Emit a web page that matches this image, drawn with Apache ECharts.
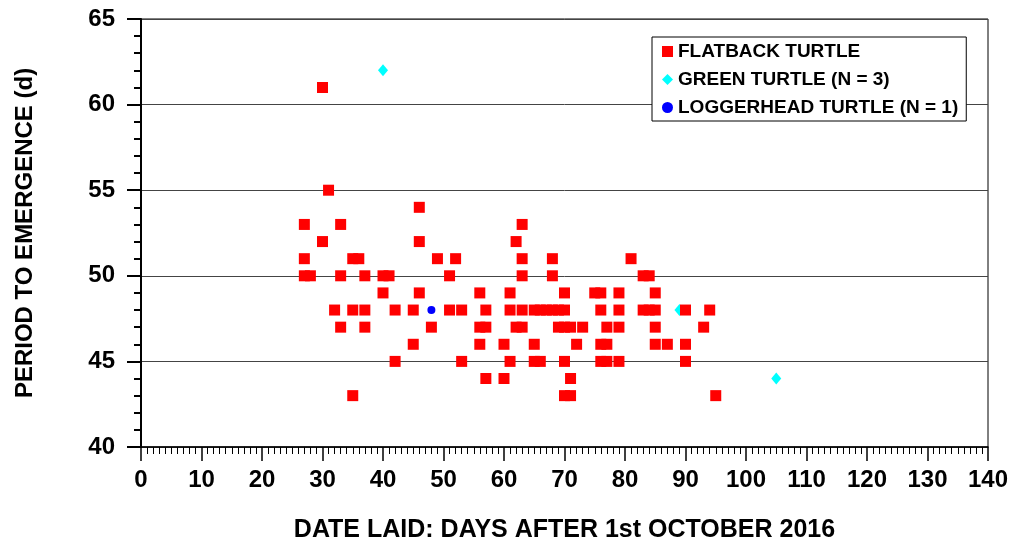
<!DOCTYPE html>
<html>
<head>
<meta charset="utf-8">
<script src="https://cdn.jsdelivr.net/npm/echarts@6/dist/echarts.min.js"></script>
<style>
html,body{margin:0;padding:0;background:#fff;}
#chart{width:1012px;height:545px;}
</style>
</head>
<body>
<div id="chart"></div>
<script>
// Flatback turtle: day laid (after 1 Oct 2016) and period to emergence (d)
const flatbackDays = [
  30,
  31,
  46,
  27,33,63,
  30,46,62,
  27,35,36,49,52,63,68,81,
  27,28,33,37,40,41,51,63,68,83,84,
  40,46,56,61,70,75,76,79,85,
  32,35,37,42,45,51,53,57,61,63,65,66,67,68,69,70,76,79,83,84,85,90,94,
  33,37,48,56,57,62,63,69,70,71,73,77,79,85,93,
  45,56,60,65,72,76,77,85,87,90,
  42,53,61,65,66,70,76,77,79,90,
  57,60,71,
  35,70,71,95
];
const flatbackPeriods = [
  61,
  55,
  54,
  53,53,53,
  52,52,52,
  51,51,51,51,51,51,51,51,
  50,50,50,50,50,50,50,50,50,50,50,
  49,49,49,49,49,49,49,49,49,
  48,48,48,48,48,48,48,48,48,48,48,48,48,48,48,48,48,48,48,48,48,48,48,
  47,47,47,47,47,47,47,47,47,47,47,47,47,47,47,
  46,46,46,46,46,46,46,46,46,46,
  45,45,45,45,45,45,45,45,45,45,
  44,44,44,
  43,43,43,43
];
const greenDays = [40, 89, 105];
const greenPeriods = [62, 48, 44];
const loggerheadDays = [48];
const loggerheadPeriods = [48];

const seriesNames = ['FLATBACK TURTLE', 'GREEN TURTLE (N = 3)', 'LOGGERHEAD TURTLE (N = 1)'];
const xTitle = 'DATE LAID: DAYS AFTER 1st OCTOBER 2016';
const yTitle = 'PERIOD TO EMERGENCE (d)';

const zip = (a, b) => a.map((v, i) => [v, b[i]]);
const FONT = "'Liberation Sans', Arial, sans-serif";

const chart = echarts.init(document.getElementById('chart'), null, {renderer: 'canvas'});
chart.setOption({
  animation: false,
  backgroundColor: '#fff',
  grid: {
    left: 141, right: 24, top: 19, bottom: 98,
    outerBoundsMode: 'none',
    containLabel: false,
    show: true, borderColor: '#000', borderWidth: 1, backgroundColor: 'transparent'
  },
  legend: {
    orient: 'vertical',
    left: 652, top: 37,
    padding: [5, 8, 4, 10],
    itemGap: 9,
    itemWidth: 11, itemHeight: 11,
    borderColor: '#000', borderWidth: 1,
    backgroundColor: '#fff',
    textStyle: {fontFamily: FONT, fontWeight: 'bold', fontSize: 19, color: '#000'},
    data: seriesNames
  },
  xAxis: {
    type: 'value', min: 0, max: 140, interval: 10,
    axisLine: {show: true, onZero: false, lineStyle: {color: '#000', width: 1.5}},
    axisTick: {show: true, inside: false, length: 14, lineStyle: {color: '#000', width: 1.5}},
    minorTick: {show: true, splitNumber: 10, length: 7, lineStyle: {color: '#000', width: 1}},
    axisLabel: {fontFamily: FONT, fontWeight: 'bold', fontSize: 24, color: '#000', margin: 21},
    splitLine: {show: false},
    name: xTitle, nameLocation: 'middle', nameGap: 71,
    nameTextStyle: {fontFamily: FONT, fontWeight: 'bold', fontSize: 25, color: '#000'}
  },
  yAxis: {
    type: 'value', min: 40, max: 65, interval: 5,
    axisLine: {show: true, onZero: false, lineStyle: {color: '#000', width: 2}},
    axisTick: {show: true, inside: false, length: 14, lineStyle: {color: '#000', width: 2}},
    minorTick: {show: true, splitNumber: 5, length: 7, lineStyle: {color: '#000', width: 2}},
    axisLabel: {fontFamily: FONT, fontWeight: 'bold', fontSize: 24, color: '#000', margin: 26},
    splitLine: {show: true, lineStyle: {color: '#444', width: 1}},
    name: yTitle, nameLocation: 'middle', nameGap: 104,
    nameTextStyle: {fontFamily: FONT, fontWeight: 'bold', fontSize: 24, color: '#000'}
  },
  series: [
    {
      name: seriesNames[0], type: 'scatter', symbol: 'rect', symbolSize: 11,
      itemStyle: {color: '#ff0000', opacity: 1},
      emphasis: {disabled: true},
      data: zip(flatbackDays, flatbackPeriods), z: 3
    },
    {
      name: seriesNames[1], type: 'scatter', symbol: 'diamond', symbolSize: [10, 12],
      itemStyle: {color: '#00ffff', opacity: 1},
      emphasis: {disabled: true},
      data: zip(greenDays, greenPeriods), z: 2
    },
    {
      name: seriesNames[2], type: 'scatter', symbol: 'circle', symbolSize: 8,
      itemStyle: {color: '#0000ff', opacity: 1},
      emphasis: {disabled: true},
      data: zip(loggerheadDays, loggerheadPeriods), z: 4
    }
  ]
});
</script>
</body>
</html>
